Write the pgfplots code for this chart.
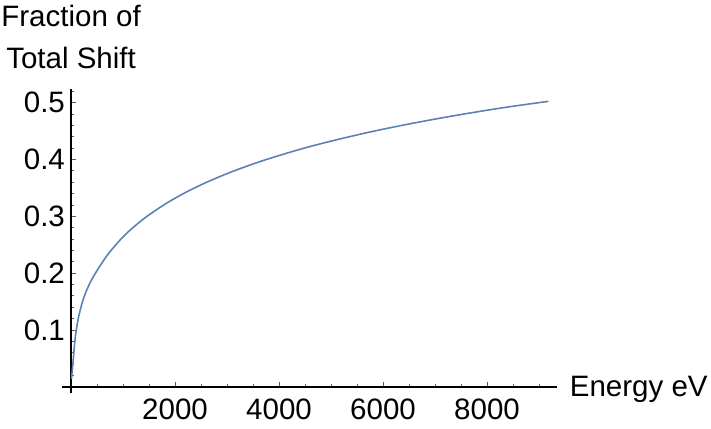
\documentclass[border=0pt]{standalone}
\usepackage{pgfplots}
\pgfplotsset{compat=1.18}
\usepackage{fontspec}
\setmainfont{Liberation Sans}
\definecolor{mmablue}{RGB}{94,129,181}
\begin{document}
\fontsize{29.5}{41.6}\selectfont
\begin{tikzpicture}
\begin{axis}[
  name=ax,
  scale only axis,
  width=495pt, height=304.4pt,
  xmin=-180, xmax=9340,
  ymin=-0.011, ymax=0.525,
  axis lines=middle,
  axis line style={-, black},
  x axis line style={line width=2.3pt},
  y axis line style={line width=1.7pt},
  xtick={2000,4000,6000,8000},
  ytick={0.1,0.2,0.3,0.4,0.5},
  minor xtick={500,1000,1500,2500,3000,3500,4500,5000,5500,6500,7000,7500,8500,9000},
  minor ytick={0.02,0.04,0.06,0.08,0.12,0.14,0.16,0.18,0.22,0.24,0.26,0.28,0.32,0.34,0.36,0.38,0.42,0.44,0.46,0.48,0.52},
  xticklabels={2000,4000,6000,8000},
  yticklabels={0.1,0.2,0.3,0.4,0.5},
  tick align=inside,
  major tick length=4.5pt,
  minor tick length=2.7pt,
  every tick/.style={black!65, line width=0.9pt},
  xticklabel style={anchor=north, inner sep=0pt, yshift=-11.5pt},
  yticklabel style={anchor=east, inner sep=0pt, xshift=-6pt},
  xlabel={Energy eV},
  ylabel={Fraction of\\Total Shift},
  xlabel style={at={(axis cs:9340,0)}, anchor=base west, inner sep=0pt, xshift=13pt, yshift=-10pt},
  ylabel style={at={(axis cs:0,0.525)}, anchor=south, align=center, inner sep=0pt, yshift=19.7pt, rotate=0},
  clip=false,
]
\addplot[mmablue, line width=1.6pt, smooth, tension=0.5] coordinates {
(8,0.014) (25,0.030) (50,0.056) (85,0.090) (150,0.125) (245,0.157)
(370,0.184) (530,0.209) (720,0.2345) (1000,0.264) (1250,0.2849)
(1500,0.3027) (1850,0.3239) (2200,0.3420) (2600,0.3598) (3100,0.3789)
(3700,0.3985) (4400,0.4180) (5000,0.4325) (5700,0.4476) (6400,0.4609)
(7000,0.4713) (7600,0.4809) (8400,0.4926) (9180,0.5025)
};
\end{axis}
\pgfresetboundingbox
\path ([xshift=-61.7pt,yshift=-35pt]ax.south west) rectangle ++(711pt,428pt);
\end{tikzpicture}
\end{document}
